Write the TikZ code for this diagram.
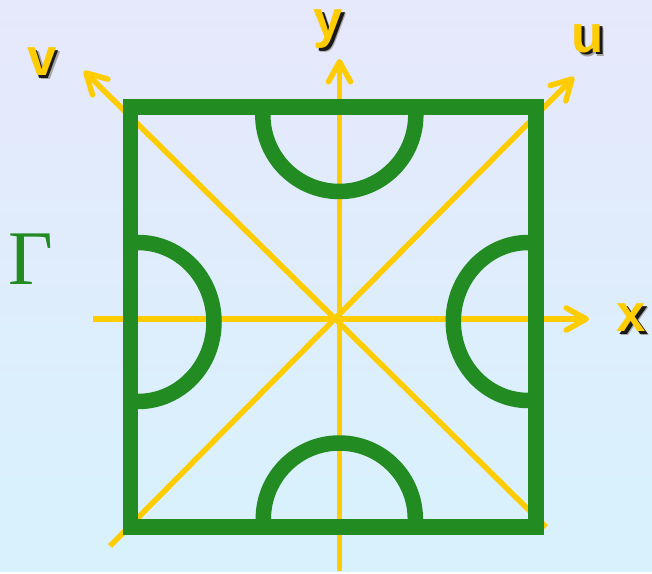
\documentclass[tikz,border=0pt]{standalone}
\usepackage{fontspec}
\setmainfont{Liberation Serif}
\newfontfamily\labelfont{Liberation Sans}
\usetikzlibrary{arrows.meta}
\definecolor{bgtop}{HTML}{E6E8FB}
\definecolor{bgbot}{HTML}{D7F2FD}
\definecolor{gammagreen}{HTML}{228B22}
\definecolor{axisgold}{HTML}{FFCC00}
\tikzset{axis/.style={axisgold, line width=0.11cm, ->}, wall/.style={gammagreen, line width=0.31cm},
  axislabel/.style={font=\labelfont\bfseries\fontsize{30}{30}\selectfont, inner sep=0pt, text=axisgold}}
% soft black drop shadow behind a letter
\newcommand{\shadowtext}[1]{\rlap{\kern2.3pt\lower2.3pt\hbox{\textcolor{black!35}{#1}}}\rlap{\kern1.5pt\lower1.5pt\hbox{\textcolor{black!90}{#1}}}#1}

\begin{document}
\begin{tikzpicture}[x=0.02cm, y=0.02cm, >={Straight Barb[length=0.4cm,width=0.44cm,round]}]
\shade[top color=bgtop, bottom color=bgbot] (0,0) rectangle (652,571);
\coordinate (O) at (339.5,252);
\coordinate (xs) at (93,252);    \coordinate (xe) at (589,252);
\coordinate (ys) at (339.5,0);   \coordinate (ye) at (339.5,512);
\coordinate (us) at (110,25);    \coordinate (ue) at (574,494);
\coordinate (vs) at (546,44);    \coordinate (ve) at (84,500);
\foreach \a in {x,y,u,v}{\draw[axis] (\a s) -- (\a e);}

% half discs cut out of the boundary
\draw[wall] (415.8,456) arc[start angle=0, end angle=-180, radius=76.5];
\draw[wall] (415.3,52) arc[start angle=0, end angle=180, radius=76];
\draw[wall] (138,328.5) arc[start angle=90, end angle=-90, x radius=76, y radius=79.5];
\draw[wall] (528.3,328.5) arc[start angle=90, end angle=270, x radius=75, y radius=79];
\draw[wall] (130.25,44) rectangle (536,464);

\node[axislabel] (xlab) at (631.5,251) {\shadowtext{x}};
\node[axislabel] (ylab) at (328.5,540) {\shadowtext{y}};
\node[axislabel] (ulab) at (588,530.5) {\shadowtext{u}};
\node[axislabel] (vlab) at (42,507.5) {\shadowtext{v}};
\node[text=gammagreen, font=\fontsize{44}{44}\selectfont, inner sep=0pt] (gamma) at (30.5,311.5) {Γ};
\end{tikzpicture}
\end{document}
